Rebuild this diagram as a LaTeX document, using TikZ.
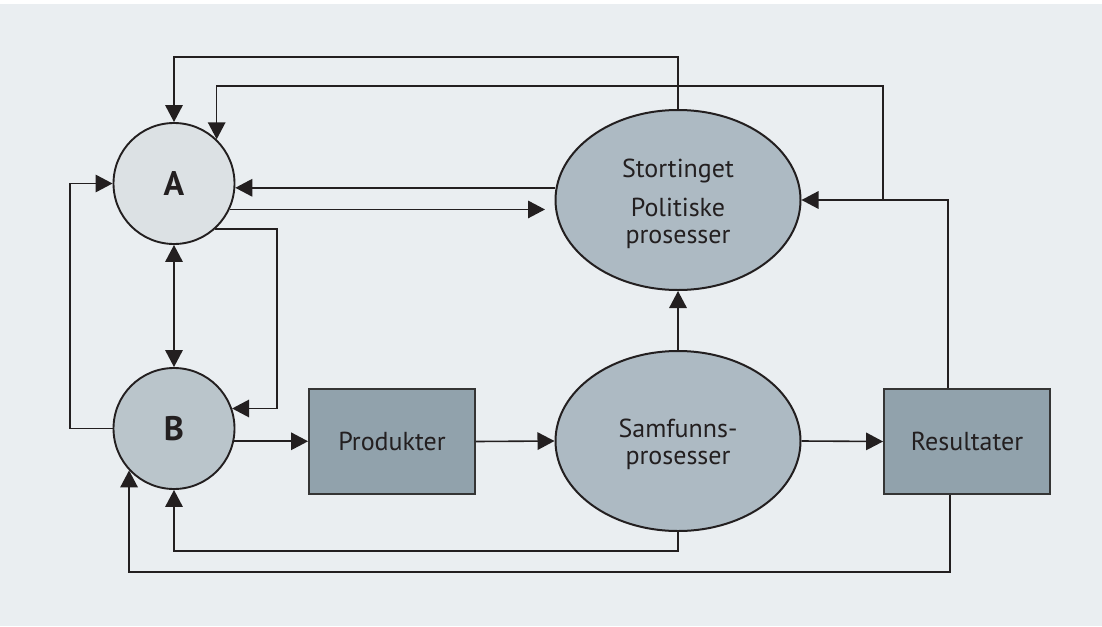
\documentclass[tikz,border=0pt]{standalone}
\usepackage{fontspec}
\setmainfont{PT Sans}
\usetikzlibrary{arrows.meta,shapes.geometric,calc}
\definecolor{bgcol}{HTML}{EAEEF1}
\definecolor{afill}{HTML}{DCE1E4}
\definecolor{bfill}{HTML}{BAC5CB}
\definecolor{efill}{HTML}{ADBAC3}
\definecolor{rfill}{HTML}{91A2AC}
\definecolor{ink}{HTML}{231F20}
\definecolor{boxline}{HTML}{353535}
\begin{document}
\begin{tikzpicture}[x=1pt,y=-1pt,
  every node/.style={text=ink},
  circ/.style={circle,draw=ink,line width=1.9pt,minimum size=121pt,inner sep=0pt,font=\fontsize{34}{38}\selectfont\bfseries},
  ell/.style={ellipse,draw=ink,line width=2pt,fill=efill,minimum width=245pt,minimum height=180pt,inner sep=0pt},
  boxn/.style={rectangle,draw=boxline,line width=1.9pt,fill=rfill,minimum width=166pt,minimum height=105pt,inner sep=0pt,font=\fontsize{26}{28}\selectfont},
  txt/.style={align=center,font=\fontsize{26}{27}\selectfont,inner sep=0pt},
  arr/.style={draw=ink,line width=1.6pt,-{Triangle[length=17pt,width=17.5pt]}},
  arrtwo/.style={draw=ink,line width=1.6pt,{Triangle[length=17pt,width=17.5pt]}-{Triangle[length=17pt,width=17.5pt]}},
]
\useasboundingbox (0,0) rectangle (1102,626);
\fill[white] (0,0) rectangle (1102,626);
\fill[bgcol] (0,4) rectangle (1102,626);

% nodes
\node[circ,fill=afill] (A) at (174,183.5) {A};
\node[circ,fill=bfill] (B) at (174,428.5) {B};
\node[boxn] (P) at (392,441.5) {Produkter};
\node[boxn] (R) at (967,441.5) {Resultater};
\node[ell,label={[txt,yshift=-4pt]center:{Stortinget\\[12.5pt]Politiske\\prosesser}}] (S) at (678,200) {};
\node[ell,label={[txt,yshift=-3pt]center:{Samfunns-\\prosesser}}] (M) at (678,441) {};

\coordinate (kx) at (277,0);
\coordinate (br) at (883,200);

% connectors
\draw[arr] (S.north) -- ++(0,-52) -| (A.north);
\draw[arr] ([xshift=-19pt]R.north) |- (S.east);
\draw[arr] (br) -- ++(0,-114) -| (A.46);
\draw[arr] (S.west |- A.-4) -- (A.-4);
\draw[arr,shorten >=9.5pt] (A.-25) -- (A.-25 -| S.west);
\draw[arr] (A.-48) -- (A.-48 -| kx) |- (B.19.5);
\draw[arrtwo] (A.south) -- (B.north);
\draw[arr] (B.west) -- ++(-42.5,0) |- (A.west);
\draw[arr] (B.-12.6) -- (B.-12.6 -| P.west);
\draw[arr] (P.east) -- (M.west);
\draw[arr] (M.south) -- ++(0,19) -| (B.south);
\draw[arr] (M.north) -- (S.south);
\draw[arr] (M.east) -- (R.west);
\draw[arr] ([xshift=-17pt]R.south) -- ++(0,77) -| (B.223.3);
\end{tikzpicture}
\end{document}
